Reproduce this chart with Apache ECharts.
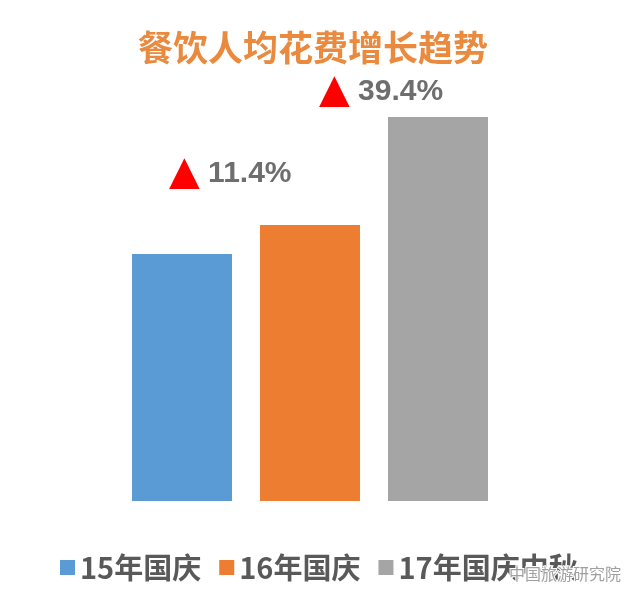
<!DOCTYPE html>
<html><head><meta charset="utf-8">
<script src="https://cdn.jsdelivr.net/npm/echarts@6/dist/echarts.min.js"></script>
<style>html,body{margin:0;padding:0;background:#fff}#c{width:640px;height:604px}</style>
</head><body><div id="c"></div>
<script>
const titleText = '餐饮人均花费增长趋势';
const categories = ['15年国庆', '16年国庆', '17年国庆中秋'];
const seriesNames = ['15年国庆', '16年国庆', '17年国庆中秋'];
const values = [247, 276, 384];
const growthLabels = ['', '11.4%', '39.4%'];
const colors = ['#5B9BD5', '#ED7D31', '#A5A5A5'];
const labelPos = [[0, 0], [-91, -51], [-69, -25]];

const chart = echarts.init(document.getElementById('c'));
const series = seriesNames.map((name, i) => ({
  name: name,
  type: 'bar',
  stack: 'all',
  barWidth: 100,
  itemStyle: { color: colors[i] },
  data: categories.map((c, j) => j === i ? values[i] : '-'),
  label: {
    show: growthLabels[i] !== '',
    position: labelPos[i],
    align: 'left',
    verticalAlign: 'middle',
    formatter: () => '{t|▲}{v| ' + growthLabels[i] + '}',
    rich: {
      t: { color: '#FF0000', fontSize: 40, fontFamily: 'DejaVu Sans' },
      v: { color: '#6E6E6E', fontSize: 30, fontWeight: 'bold', fontFamily: 'Liberation Sans' }
    }
  }
}));

chart.setOption({
  backgroundColor: '#ffffff',
  animation: false,
  title: {
    text: titleText,
    left: 308, top: 25, textAlign: 'center',
    textStyle: { color: '#EA8A3F', fontSize: 35, fontWeight: 'bold', fontFamily: 'Noto Sans CJK SC' }
  },
  legend: {
    left: 55, top: 548,
    itemWidth: 15, itemHeight: 15, itemGap: 18,
    icon: 'rect',
    data: seriesNames,
    textStyle: { color: '#595959', fontSize: 29, fontWeight: 'bold', fontFamily: 'Noto Sans CJK SC' }
  },
  grid: { left: 118, right: 138, top: 101, bottom: 103 },
  xAxis: {
    type: 'category', data: categories, show: false
  },
  yAxis: { type: 'value', min: 0, max: 400, show: false },
  series: series,
  graphic: [{
    type: 'text', left: 508, top: 565, z: 100,
    style: { text: '中国旅游研究院', fill: '#a0a0a0', fontSize: 16, fontFamily: 'Noto Sans CJK SC', stroke: '#ffffff', lineWidth: 2 }
  }]
});
</script></body></html>
